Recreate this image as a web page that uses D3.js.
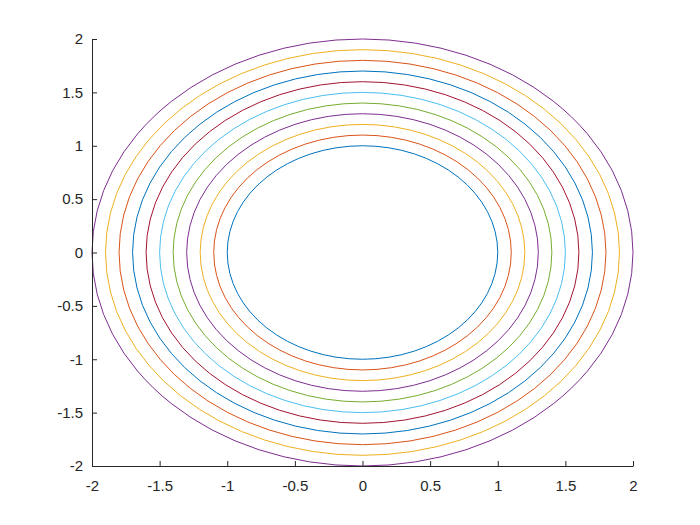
<!DOCTYPE html>
<html>
<head>
<meta charset="utf-8">
<script src="https://cdn.jsdelivr.net/npm/d3@7"></script>
<style>
  body { margin: 0; background: #fff; }
  svg text { font-family: "Liberation Sans", Arial, sans-serif; font-size: 15px; fill: #262626; }
</style>
</head>
<body>
<svg width="700" height="525"></svg>
<script>
(function(d3) {
    'use strict';

    var radii = [1, 1.1, 1.2, 1.3, 1.4, 1.5, 1.6, 1.7, 1.8, 1.9, 2];
    var colors = ['#0072BD', '#D95319', '#EDB120', '#7E2F8E', '#77AC30', '#4DBEEE', '#A2142F'];
    var xTicks = [-2, -1.5, -1, -0.5, 0, 0.5, 1, 1.5, 2];
    var yTicks = [-2, -1.5, -1, -0.5, 0, 0.5, 1, 1.5, 2];

    var margin = { top: 39, right: 67, bottom: 59, left: 92 },
        width = 700 - margin.left - margin.right,
        height = 525 - margin.top - margin.bottom;

    var x = d3.scaleLinear().domain([-2, 2]).range([0, width]),
        y = d3.scaleLinear().domain([-2, 2]).range([height, 0]);

    var svg = d3.select('svg')
        .append('g')
        .attr('transform', 'translate(' + margin.left + ',' + margin.top + ')');

    svg.selectAll('ellipse')
        .data(radii)
        .enter()
        .append('ellipse')
        .attr('cx', x(0))
        .attr('cy', y(0))
        .attr('rx', function (d) { return x(d) - x(0); })
        .attr('ry', function (d) { return y(0) - y(d); })
        .attr('fill', 'none')
        .attr('stroke-width', 1)
        .attr('stroke', function (d, i) { return colors[i % colors.length]; });

    var fmt = function (d) { return String(d); };

    var xAxis = svg.append('g')
        .attr('transform', 'translate(0,' + height + ')')
        .call(d3.axisBottom(x).tickValues(xTicks).tickFormat(fmt).tickSizeInner(-5).tickSizeOuter(0).tickPadding(14));

    var yAxis = svg.append('g')
        .call(d3.axisLeft(y).tickValues(yTicks).tickFormat(fmt).tickSizeInner(-5).tickSizeOuter(0).tickPadding(9));

    [xAxis, yAxis].forEach(function (g) {
        g.attr('font-family', null).attr('font-size', null);
        g.select('.domain').attr('stroke', '#262626');
        g.selectAll('.tick line').attr('stroke', '#262626');
    });
})(window.d3);
</script>
</body>
</html>
